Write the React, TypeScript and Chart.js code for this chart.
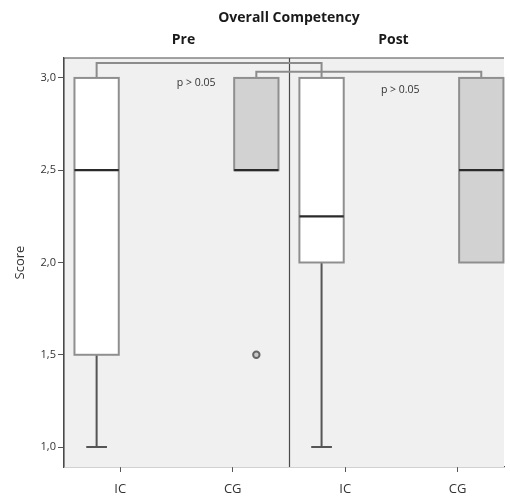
import React, { useEffect, useRef } from "react";
import { Chart, registerables } from "chart.js";

Chart.register(...registerables);

// ---- data ----
const panels = ["Pre", "Post"];
const groups = ["IC", "CG"];
const xTickLabels = ["IC", "CG", "IC", "CG"];
const yTickValues = [1.0, 1.5, 2.0, 2.5, 3.0];
// per box, order: Pre-IC, Pre-CG, Post-IC, Post-CG
const boxMin = [1.0, 2.5, 1.0, 2.0];
const boxQ1 = [1.5, 2.5, 2.0, 2.0];
const boxMedian = [2.5, 2.5, 2.25, 2.5];
const boxQ3 = [3.0, 3.0, 3.0, 3.0];
const boxMax = [3.0, 3.0, 3.0, 3.0];
const outliers = [{ box: 1, value: 1.5 }];
const pLabels = ["p > 0.05", "p > 0.05"];
const chartTitle = "Overall Competency";
const yTitle = "Score";

const FONT = "'Open Sans', sans-serif";

function boxCenter(i: number) {
  const panel = Math.floor(i / groups.length);
  const g = i % groups.length;
  return panel * 2 + (g === 0 ? 0.29 : 1.71);
}

const boxPlugin = {
  id: "boxPlugin",
  beforeDatasetsDraw(chart: any) {
    const { ctx, chartArea, scales } = chart;
    const x = scales.x;
    const y = scales.y;
    ctx.save();
    // background
    ctx.fillStyle = "#f0f0f0";
    ctx.fillRect(chartArea.left, chartArea.top, chartArea.right - chartArea.left, chartArea.bottom - chartArea.top);
    // border
    ctx.strokeStyle = "#4a4a4a";
    ctx.lineWidth = 1.2;
    ctx.beginPath();
    ctx.moveTo(chartArea.left, chartArea.bottom);
    ctx.lineTo(chartArea.left, chartArea.top);
    ctx.lineTo(chartArea.right, chartArea.top);
    ctx.stroke();
    // divider
    const dx = Math.round(x.getPixelForValue(2)) + 0.5;
    ctx.beginPath();
    ctx.moveTo(dx, chartArea.top);
    ctx.lineTo(dx, chartArea.bottom);
    ctx.stroke();

    // brackets
    ctx.strokeStyle = "#8c8c8c";
    ctx.lineWidth = 2;
    const brackets = [
      { a: 0, b: 2, top: 3.081 },
      { a: 1, b: 3, top: 3.033 },
    ];
    brackets.forEach((br) => {
      const xa = x.getPixelForValue(boxCenter(br.a));
      const xb = x.getPixelForValue(boxCenter(br.b));
      const yt = y.getPixelForValue(br.top);
      const yb = y.getPixelForValue(boxQ3[br.a]);
      const yb2 = y.getPixelForValue(boxQ3[br.b]);
      ctx.beginPath();
      ctx.moveTo(xa, yb);
      ctx.lineTo(xa, yt);
      ctx.lineTo(xb, yt);
      ctx.lineTo(xb, yb2);
      ctx.stroke();
    });

    // boxes
    const half = 0.197;
    const capHalf = 0.092;
    for (let i = 0; i < boxMin.length; i++) {
      const c = boxCenter(i);
      const xl = x.getPixelForValue(c - half);
      const xr = x.getPixelForValue(c + half);
      const xc = x.getPixelForValue(c);
      const cl = x.getPixelForValue(c - capHalf);
      const cr = x.getPixelForValue(c + capHalf);
      const yq1 = y.getPixelForValue(boxQ1[i]);
      const yq3 = y.getPixelForValue(boxQ3[i]);
      const ymin = y.getPixelForValue(boxMin[i]);
      const ymax = y.getPixelForValue(boxMax[i]);
      const ymed = y.getPixelForValue(boxMedian[i]);
      // whiskers
      ctx.strokeStyle = "#555555";
      ctx.lineWidth = 2;
      if (boxMin[i] < boxQ1[i]) {
        ctx.beginPath();
        ctx.moveTo(xc, yq1);
        ctx.lineTo(xc, ymin);
        ctx.moveTo(cl, ymin);
        ctx.lineTo(cr, ymin);
        ctx.stroke();
      }
      if (boxMax[i] > boxQ3[i]) {
        ctx.beginPath();
        ctx.moveTo(xc, yq3);
        ctx.lineTo(xc, ymax);
        ctx.moveTo(cl, ymax);
        ctx.lineTo(cr, ymax);
        ctx.stroke();
      }
      // box
      ctx.fillStyle = i % 2 === 0 ? "#ffffff" : "#d2d2d2";
      ctx.fillRect(xl, yq3, xr - xl, yq1 - yq3);
      ctx.strokeStyle = "#8f8f8f";
      ctx.lineWidth = 2;
      ctx.strokeRect(xl, yq3, xr - xl, yq1 - yq3);
      // median
      ctx.strokeStyle = "#2a2a2a";
      ctx.lineWidth = 2.2;
      ctx.beginPath();
      ctx.moveTo(xl, ymed);
      ctx.lineTo(xr, ymed);
      ctx.stroke();
    }

    // p labels
    ctx.fillStyle = "#333333";
    ctx.font = `10.5px ${FONT}`;
    ctx.textAlign = "center";
    ctx.textBaseline = "middle";
    const pPos = [
      { xv: 1.175, yv: 2.973 },
      { xv: 2.99, yv: 2.935 },
    ];
    pLabels.forEach((t, i) => {
      ctx.fillText(t, x.getPixelForValue(pPos[i].xv), y.getPixelForValue(pPos[i].yv));
    });

    // titles
    ctx.fillStyle = "#1a1a1a";
    ctx.font = `bold 14px ${FONT}`;
    ctx.fillText(chartTitle, x.getPixelForValue(2), 18);
    ctx.fillText(panels[0], x.getPixelForValue(1) + 7, 40);
    ctx.fillText(panels[1], x.getPixelForValue(3) - 8, 40);
    ctx.restore();
  },
};

export default function App() {
  const ref = useRef<HTMLCanvasElement>(null);
  useEffect(() => {
    if (!ref.current) return;
    const chart = new Chart(ref.current, {
      type: "scatter",
      data: {
        datasets: [
          {
            label: "outliers",
            data: outliers.map((o) => ({ x: boxCenter(o.box), y: o.value })),
            pointStyle: "circle",
            radius: 3.2,
            borderWidth: 2,
            borderColor: "#666666",
            backgroundColor: "#c8c8c8",
          },
        ],
      },
      options: {
        animation: false,
        responsive: false,
        events: [],
        layout: { padding: { top: 58, left: 0, right: 0, bottom: 0 } },
        plugins: { legend: { display: false }, tooltip: { enabled: false } },
        scales: {
          x: {
            type: "linear",
            min: 0,
            max: 3.912,
            afterFit: (s: any) => {
              s.height = 31;
            },
            afterBuildTicks: (s: any) => {
              s.ticks = [0.5, 1.5, 2.5, 3.5].map((v) => ({ value: v }));
            },
            grid: { drawOnChartArea: false, drawTicks: true, tickLength: 5, color: "#555555" },
            border: { display: true, color: "#4a4a4a", width: 1.2 },
            ticks: {
              autoSkip: false,
              maxRotation: 0,
              padding: 9,
              color: "#333333",
              font: { family: FONT, size: 13 },
              callback: (_v: any, i: number) => xTickLabels[i],
            },
          },
          y: {
            type: "linear",
            min: 0.892,
            max: 3.108,
            afterFit: (s: any) => {
              s.width = 64;
            },
            afterBuildTicks: (s: any) => {
              s.ticks = yTickValues.map((v) => ({ value: v }));
            },
            grid: { drawOnChartArea: false, drawTicks: true, tickLength: 6, color: "#555555" },
            border: { display: true, color: "#4a4a4a", width: 1.2 },
            title: {
              display: true,
              text: yTitle,
              color: "#333333",
              font: { family: FONT, size: 13 },
              padding: { top: 12, bottom: 0 },
            },
            ticks: {
              autoSkip: false,
              padding: 2,
              color: "#333333",
              font: { family: FONT, size: 11 },
              callback: (v: any) => Number(v).toFixed(1).replace(".", ","),
            },
          },
        },
      },
      plugins: [boxPlugin],
    });
    return () => chart.destroy();
  }, []);
  return (
    <div style={{ position: "fixed", left: 0, top: 0, width: 510, height: 498, background: "#ffffff" }}>
      <canvas ref={ref} width={510} height={498} style={{ display: "block" }} />
    </div>
  );
}
